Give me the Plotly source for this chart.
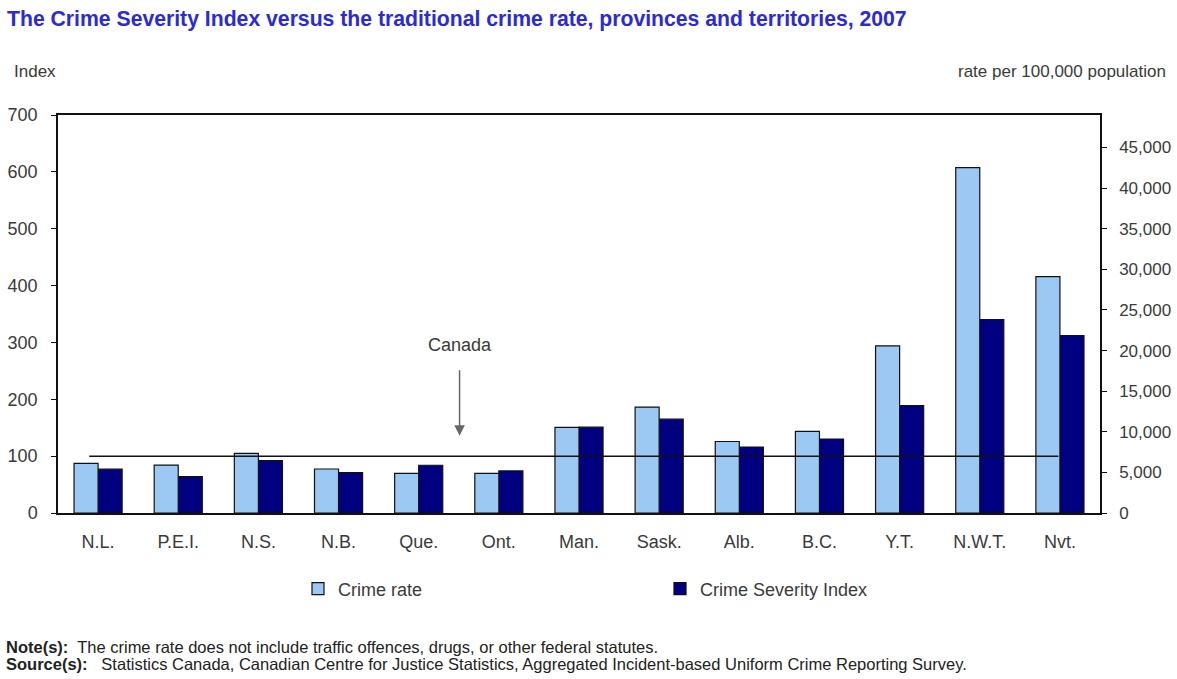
import plotly.graph_objects as go

# Provinces and territories, 2007
regions = ["N.L.", "P.E.I.", "N.S.", "N.B.", "Que.", "Ont.", "Man.",
           "Sask.", "Alb.", "B.C.", "Y.T.", "N.W.T.", "Nvt."]

# Traditional crime rate (per 100,000 population), right axis
crime_rate = [6120, 5900, 7350, 5420, 4890, 4890, 10550,
              13040, 8800, 10040, 20580, 42520, 29100]

# Crime Severity Index, left axis
severity_index = [77, 64, 92, 71, 84, 74, 151,
                  165, 116, 130, 189, 340, 312]

canada_index = 100

left_ticks = [0, 100, 200, 300, 400, 500, 600, 700]
right_ticks = [0, 5000, 10000, 15000, 20000, 25000, 30000, 35000, 40000, 45000]
right_labels = ["0", "5,000", "10,000", "15,000", "20,000", "25,000",
                "30,000", "35,000", "40,000", "45,000"]

FONT = "Liberation Sans, Arial, sans-serif"
TXT = "#3a3a3a"

W, H = 1177, 679
PL, PR, PT, PB = 58, 1100, 115, 513   # plot-area edges in pixels


def px(x):
    return (x - PL) / (PR - PL)


def py(y):
    return (PB - y) / (PB - PT)


fig = go.Figure()
fig.add_trace(go.Bar(
    x=regions, y=crime_rate, name="Crime rate", yaxis="y2",
    offsetgroup="rate", alignmentgroup="g",
    marker=dict(color="#9cc8f4", line=dict(color="#111111", width=1.2)),
))
fig.add_trace(go.Bar(
    x=regions, y=severity_index, name="Crime Severity Index", yaxis="y",
    offsetgroup="csi", alignmentgroup="g",
    marker=dict(color="#000080", line=dict(color="#111111", width=1.2)),
))

# National reference line
fig.add_shape(type="line", xref="x", yref="y",
              x0=-0.11, x1=11.98, y0=canada_index, y1=canada_index,
              line=dict(color="#111111", width=1.5), layer="above")

fig.add_annotation(
    x=4.51, y=136, xref="x", yref="y", text="Canada",
    showarrow=True, arrowhead=2, arrowsize=1.4, arrowwidth=1.5,
    arrowcolor="#666666", ax=0, ay=-91, startstandoff=14,
    font=dict(family=FONT, size=18, color=TXT),
)

# Axis titles
fig.add_annotation(x=px(12), y=py(72), xref="paper", yref="paper", text="Index",
                   showarrow=False, xanchor="left", yanchor="middle",
                   font=dict(family=FONT, size=17, color=TXT))
fig.add_annotation(x=px(1168), y=py(72), xref="paper", yref="paper",
                   text="rate per 100,000 population",
                   showarrow=False, xanchor="right", yanchor="middle",
                   font=dict(family=FONT, size=17, color=TXT))

# Notes
fig.add_annotation(x=px(4), y=py(647), xref="paper", yref="paper",
                   showarrow=False, xanchor="left", yanchor="middle",
                   text="<b>Note(s):</b>  The crime rate does not include traffic offences, drugs, or other federal statutes.",
                   font=dict(family=FONT, size=16.5, color="#222222"))
fig.add_annotation(x=px(4), y=py(664), xref="paper", yref="paper",
                   showarrow=False, xanchor="left", yanchor="middle",
                   text="<b>Source(s):</b>   Statistics Canada, Canadian Centre for Justice Statistics, Aggregated Incident-based Uniform Crime Reporting Survey.",
                   font=dict(family=FONT, size=16.5, color="#222222"))

fig.update_layout(
    width=W, height=H,
    margin=dict(l=PL, r=W - PR, t=PT, b=H - PB, autoexpand=False),
    paper_bgcolor="white", plot_bgcolor="white",
    barmode="group", bargap=0.4, bargroupgap=0,
    title=dict(
        text="<b>The Crime Severity Index versus the traditional crime rate, provinces and territories, 2007</b>",
        x=7 / W, xanchor="left", y=1 - 19 / H, yanchor="middle",
        font=dict(family=FONT, size=21.2, color="#2a2ad8"),
    ),
    xaxis=dict(
        range=[-0.5, 12.5], showline=True, linecolor="#111111", linewidth=1.5,
        mirror=True, ticks="", showgrid=False, automargin=False,
        tickfont=dict(family=FONT, size=18, color=TXT), ticklabelstandoff=12,
    ),
    yaxis=dict(
        range=[0, 700], tickvals=left_ticks, showgrid=False, zeroline=False,
        showline=True, linecolor="#111111", linewidth=1.5, automargin=False,
        ticks="outside", ticklen=5, tickcolor="#111111",
        tickfont=dict(family=FONT, size=18, color=TXT), ticklabelstandoff=10,
    ),
    yaxis2=dict(
        range=[0, 49000], overlaying="y", side="right",
        tickvals=right_ticks, ticktext=right_labels, showgrid=False,
        zeroline=False, showline=True, linecolor="#111111", linewidth=1.5,
        automargin=False, ticks="outside", ticklen=5, tickcolor="#111111",
        tickfont=dict(family=FONT, size=17, color=TXT), ticklabelstandoff=9,
    ),
    showlegend=True,
    legend=dict(
        orientation="h", xref="container", yref="container",
        x=298 / W, xanchor="left", y=1 - 589 / H, yanchor="middle",
        entrywidth=317, entrywidthmode="pixels", itemwidth=30,
        font=dict(family=FONT, size=18, color=TXT), bgcolor="rgba(0,0,0,0)",
        traceorder="normal",
    ),
)

fig.write_html("out.html")
